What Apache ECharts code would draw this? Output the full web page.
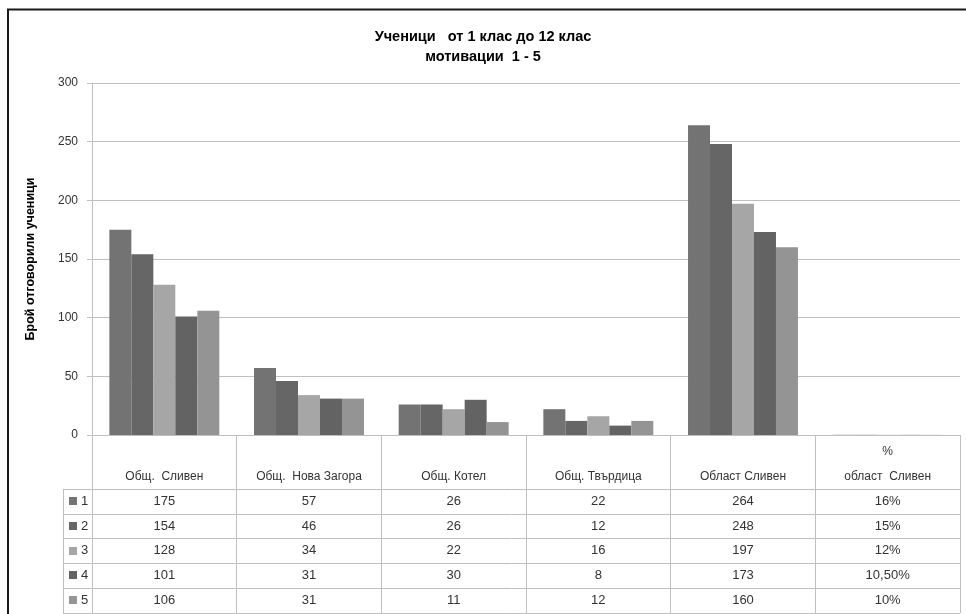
<!DOCTYPE html>
<html>
<head>
<meta charset="utf-8">
<script src="https://cdn.jsdelivr.net/npm/echarts@6/dist/echarts.min.js"></script>
<style>
html,body{margin:0;padding:0;background:#fff;}
#chart{width:966px;height:614px;}
</style>
</head>
<body>
<div id="chart"></div>
<script>
// ---- data ----
var categories = ['Общ.  Сливен', 'Общ.  Нова Загора', 'Общ. Котел', 'Общ. Твърдица', 'Област Сливен', '%\nобласт  Сливен'];
var seriesNames = ['1', '2', '3', '4', '5'];
var s1 = [175, 57, 26, 22, 264, 0.16];
var s2 = [154, 46, 26, 12, 248, 0.15];
var s3 = [128, 34, 22, 16, 197, 0.12];
var s4 = [101, 31, 30, 8, 173, 0.105];
var s5 = [106, 31, 11, 12, 160, 0.10];
var yTicks = [0, 50, 100, 150, 200, 250, 300];
var titleText = 'Ученици   от 1 клас до 12 клас\nмотивации  1 - 5';
var yName = 'Брой отговорили ученици';

var allSeries = [s1, s2, s3, s4, s5];
var colors = ['#737373', '#666666', '#a6a6a6', '#636363', '#949494'];

var GRID_LEFT = 92, GRID_RIGHT = 6, GRID_TOP = 83, GRID_BOTTOM = 179;
var W = 966, H = 614;
var HEADER_BOTTOM = 489, ROW_H = 24.7, LEGEND_LEFT = 63;
var FONT = '"Liberation Sans", Arial, sans-serif';

function fmt(v) {
  if (v < 1) {
    var p = Math.round(v * 10000) / 100;
    if (Math.round(p) === p) return p + '%';
    return p.toFixed(2).replace('.', ',') + '%';
  }
  return String(v);
}

var chart = echarts.init(document.getElementById('chart'));
var option = {
  animation: false,
  backgroundColor: '#ffffff',
  title: {
    text: titleText,
    left: 'center',
    top: 22,
    textStyle: { fontFamily: FONT, fontSize: 14.5, fontWeight: 'bold', color: '#000', lineHeight: 20 }
  },
  grid: { left: GRID_LEFT, right: GRID_RIGHT, top: GRID_TOP, bottom: GRID_BOTTOM },
  xAxis: {
    type: 'category',
    data: categories,
    axisLine: { show: true, lineStyle: { color: '#bfbfbf', width: 1 } },
    axisTick: { show: true, interval: 0, length: 178, lineStyle: { color: '#bfbfbf' } },
    axisLabel: {
      interval: 0, margin: 54, verticalAlign: 'bottom', lineHeight: 25,
      fontFamily: FONT, fontSize: 12, color: '#333'
    }
  },
  yAxis: {
    type: 'value',
    min: yTicks[0], max: yTicks[yTicks.length - 1], interval: 50,
    name: yName,
    nameLocation: 'middle',
    nameRotate: 90,
    nameGap: 55,
    nameTextStyle: { fontFamily: FONT, fontSize: 12.5, fontWeight: 'bold', color: '#000' },
    axisLine: { show: true, lineStyle: { color: '#bfbfbf' } },
    axisTick: { show: true, inside: false, length: 5, lineStyle: { color: '#bfbfbf' } },
    axisLabel: { fontFamily: FONT, fontSize: 12, color: '#333', margin: 14 },
    splitLine: { lineStyle: { color: '#bfbfbf', width: 1 } }
  },
  series: allSeries.map(function (d, i) {
    return {
      name: seriesNames[i], type: 'bar', data: d,
      barGap: '0%', barCategoryGap: '24%',
      itemStyle: { color: colors[i] }
    };
  })
};
chart.setOption(option);

// ---- data table beneath the axis ----
var g = [];
g.push({ type: 'polyline', shape: { points: [[8, H], [8, 9.5], [W, 9.5]] }, style: { stroke: '#1a1a1a', lineWidth: 2, fill: null }, z: 100 });
var right = W - GRID_RIGHT;
for (var r = 0; r <= seriesNames.length; r++) {
  var y = Math.round(HEADER_BOTTOM + r * ROW_H) + 0.5;
  g.push({ type: 'line', shape: { x1: LEGEND_LEFT, y1: y, x2: right, y2: y }, style: { stroke: '#bfbfbf', lineWidth: 1 }, z: 50 });
}
g.push({ type: 'line', shape: { x1: LEGEND_LEFT + 0.5, y1: HEADER_BOTTOM, x2: LEGEND_LEFT + 0.5, y2: Math.round(HEADER_BOTTOM + 5 * ROW_H) }, style: { stroke: '#bfbfbf', lineWidth: 1 }, z: 50 });
for (var s = 0; s < seriesNames.length; s++) {
  var cy = HEADER_BOTTOM + (s + 0.5) * ROW_H;
  g.push({ type: 'rect', shape: { x: LEGEND_LEFT + 6, y: Math.round(cy - 4), width: 8, height: 8 }, style: { fill: colors[s] }, z: 50 });
  g.push({ type: 'text', x: LEGEND_LEFT + 18, y: cy, style: { text: seriesNames[s], font: '13px ' + FONT, fill: '#333', textVerticalAlign: 'middle', verticalAlign: 'middle' }, z: 50 });
  for (var c = 0; c < categories.length; c++) {
    var cx = chart.convertToPixel({ xAxisIndex: 0 }, c);
    g.push({ type: 'text', x: cx, y: cy, style: { text: fmt(allSeries[s][c]), font: '13px ' + FONT, fill: '#333', align: 'center', textAlign: 'center', verticalAlign: 'middle', textVerticalAlign: 'middle' }, z: 50 });
  }
}
chart.setOption({ graphic: g });
</script>
</body>
</html>
